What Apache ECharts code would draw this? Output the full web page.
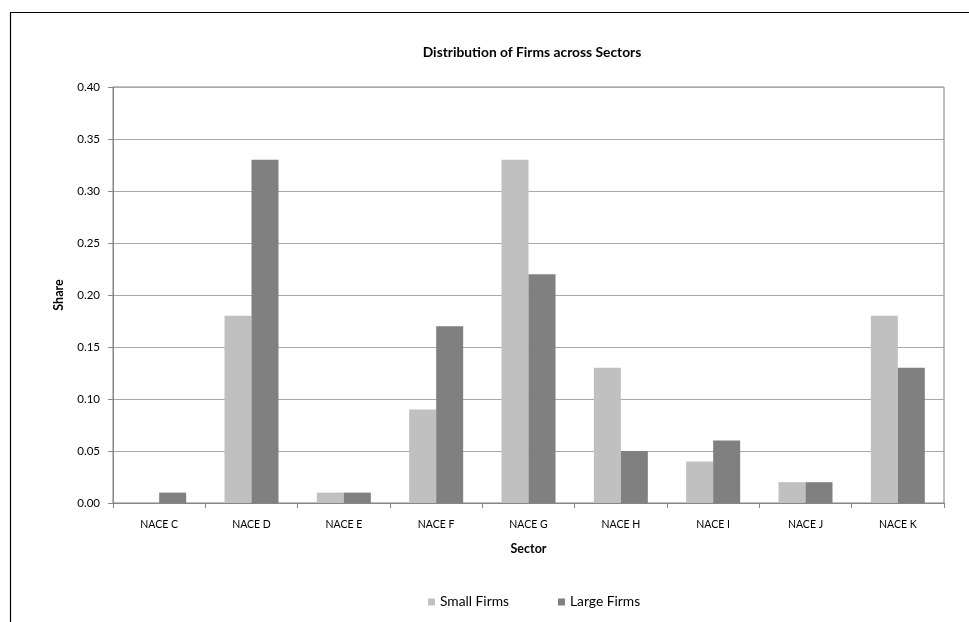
<!DOCTYPE html>
<html><head><meta charset="utf-8">
<script src="https://cdn.jsdelivr.net/npm/echarts@6/dist/echarts.min.js"></script>
<style>html,body{margin:0;padding:0;background:#fff}#c{width:969px;height:622px}</style>
</head><body><div id="c"></div>
<script>
const categories = ['NACE C','NACE D','NACE E','NACE F','NACE G','NACE H','NACE I','NACE J','NACE K'];
const smallFirms = [0, 0.18, 0.01, 0.09, 0.33, 0.13, 0.04, 0.02, 0.18];
const largeFirms = [0.01, 0.33, 0.01, 0.17, 0.22, 0.05, 0.06, 0.02, 0.13];
const FONT = 'Lato, "Open Sans", sans-serif';
const chart = echarts.init(document.getElementById('c'), null, {renderer:'canvas'});
chart.setOption({
  animation:false,
  backgroundColor:'#fff',
  textStyle:{fontFamily:FONT},
  title:{text:'Distribution of Firms across Sectors', left:527, textAlign:'center', top:41,
    textStyle:{fontFamily:FONT, fontSize:13.8, fontWeight:'bold', color:'#000'}},
  graphic:[{type:'polyline', shape:{points:[[10.5,622],[10.5,12.5],[969,12.5]]}, style:{stroke:'#000', lineWidth:1.2, fill:null}}],
  legend:{left:423, top:590, itemWidth:7, itemHeight:7, itemGap:49, icon:'rect',
    textStyle:{fontFamily:FONT, fontSize:13.8, color:'#000', padding:[0,0,0,0]},
    data:['Small Firms','Large Firms']},
  grid:{left:113, top:87, right:25, bottom:119, show:true, borderColor:'#808080', borderWidth:1},
  xAxis:{type:'category', data:categories, name:'Sector', nameLocation:'middle', nameGap:39,
    nameTextStyle:{fontFamily:FONT, fontSize:12.5, fontWeight:'bold', color:'#000'},
    axisLine:{lineStyle:{color:'#868686'}}, axisTick:{show:true, length:5, lineStyle:{color:'#868686'}},
    axisLabel:{fontFamily:FONT, fontSize:10.5, color:'#000', margin:16}},
  yAxis:{type:'value', min:0, max:0.40, interval:0.05, name:'Share', nameLocation:'middle', nameGap:48,
    nameTextStyle:{fontFamily:FONT, fontSize:12.5, fontWeight:'bold', color:'#000'},
    axisLine:{show:true, lineStyle:{color:'#868686'}}, axisTick:{show:true, length:5, lineStyle:{color:'#868686'}},
    splitLine:{lineStyle:{color:'#a8a8a8'}},
    axisLabel:{fontFamily:FONT, fontSize:11.5, color:'#000', margin:13, formatter:v=>v.toFixed(2)}},
  series:[
    {name:'Small Firms', type:'bar', data:smallFirms, barWidth:27, barGap:'0%', itemStyle:{color:'#c0c0c0'}},
    {name:'Large Firms', type:'bar', data:largeFirms, barWidth:27, barGap:'0%', itemStyle:{color:'#808080'}}
  ]
});
</script></body></html>
